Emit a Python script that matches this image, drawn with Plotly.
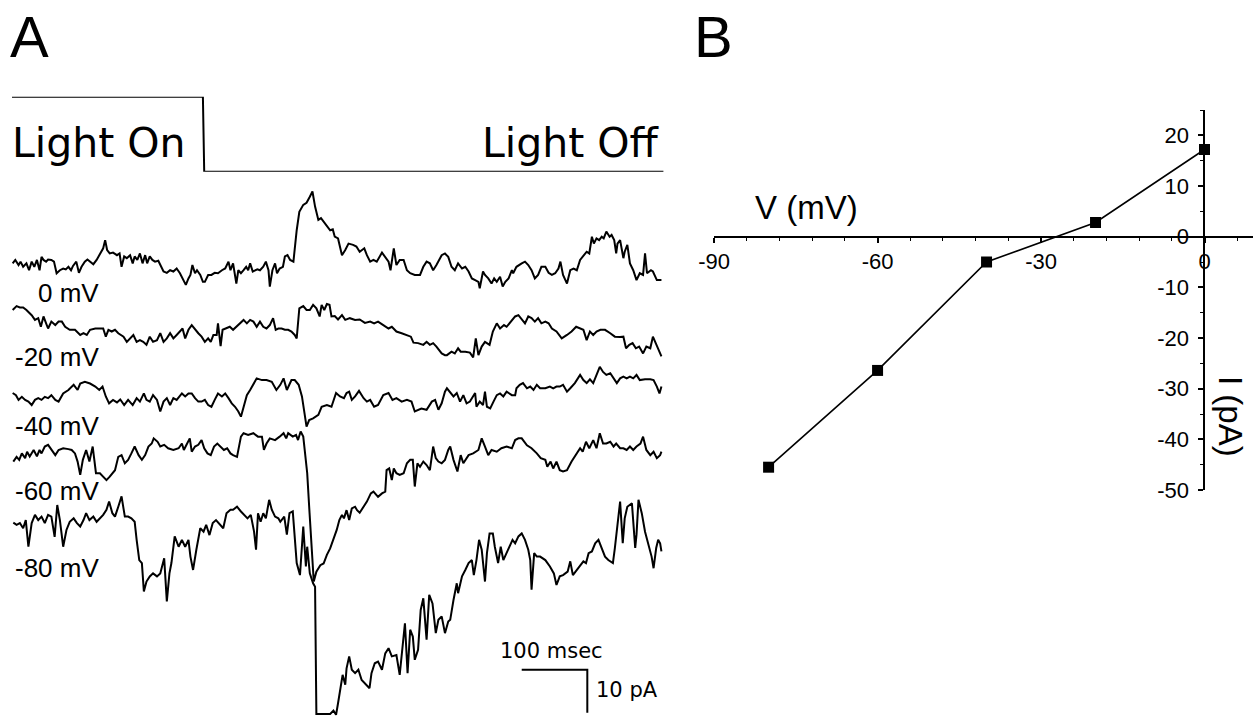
import plotly.graph_objects as go

# ---------------- Panel A: light-evoked currents at five holding potentials ----------------
# Each trace: (time in ms, current in pA relative to the trace's own baseline)
TRACE_0MV = [
    (1, 0.4), (5, 1.2), (10, 0.0), (13, 0.8), (17, -0.4), (22, 0.4), (26, -1.2), (30, 0.8), (34, -0.4),
    (38, 1.2), (42, -1.2), (45, 1.9), (48, 1.2), (52, 0.8), (55, 1.3), (60, 1.2), (64, 0.8), (68, -1.9),
    (73, -1.2), (78, -0.8), (82, -1.0), (86, -0.4), (90, -1.2), (93, -0.2), (98, 0.8), (102, -1.8),
    (106, -0.4), (111, 0.8), (115, 1.3), (119, 0.8), (124, 0.2), (129, 1.2), (134, 2.7), (139, 3.9),
    (142, 5.8), (145, 3.5), (149, 2.7), (154, 2.9), (160, 2.3), (164, 2.7), (167, -0.4), (171, 2.0),
    (175, 1.6), (180, 2.3), (184, 0.4), (187, 2.0), (191, 1.2), (195, 2.7), (199, 0.4), (203, 2.3),
    (206, 0.4), (210, 2.0), (214, 1.2), (218, 0.8), (223, 1.0), (231, -1.5), (236, -1.8), (241, -1.2),
    (246, -1.5), (251, -0.8), (256, -1.9), (261, -3.5), (265, -4.6), (269, -3.1), (272, -2.3), (275, 0.0),
    (279, -1.9), (282, -1.2), (287, -2.3), (291, -3.9), (294, -3.9), (299, -2.3), (304, -2.3), (309, -1.8),
    (314, -1.9), (320, -1.2), (325, -0.8), (330, 0.8), (333, -1.2), (337, 0.4), (342, -4.3), (345, -1.2),
    (349, -1.9), (353, -1.2), (357, -0.4), (360, -1.2), (363, 0.4), (367, -1.5), (370, -1.2), (374, -1.0),
    (378, -1.2), (383, -0.4), (387, 0.8), (391, -1.2), (393, -5.0), (397, -1.2), (401, 0.4), (404, -1.9),
    (408, -0.8), (413, -0.4), (416, 2.0), (420, 2.3), (424, 1.2), (429, 0.8), (434, 8.1), (438, 12.4),
    (444, 14.0), (449, 14.5), (454, 15.9), (458, 17.1), (462, 13.6), (467, 10.5), (471, 10.9), (475, 10.1),
    (480, 9.3), (485, 8.1), (489, 8.3), (492, 6.6), (497, 6.2), (503, 2.3), (508, 3.5), (513, 5.0),
    (520, 4.7), (525, 4.3), (530, 3.1), (537, 3.9), (541, 2.3), (546, 0.8), (551, 1.2), (556, 0.8),
    (564, 2.9), (569, 1.9), (574, 0.8), (577, -1.2), (582, 3.9), (586, 0.0), (591, 1.2), (597, 1.2),
    (602, -1.2), (607, -1.9), (614, -2.3), (622, -2.3), (627, -0.4), (632, 0.8), (637, 0.4), (642, -1.2),
    (647, 0.0), (655, 2.3), (660, 2.7), (665, 1.9), (670, -0.4), (675, -1.2), (680, 0.4), (686, -0.8),
    (691, -0.4), (696, -1.5), (701, -3.1), (706, -3.5), (711, -3.9), (713, -5.4), (718, -1.5), (721, -2.3),
    (726, -3.1), (731, -4.3), (735, -3.1), (739, -3.9), (744, -2.7), (748, -5.0), (752, -3.9), (757, -3.1),
    (762, -1.2), (764, -1.9), (769, -0.4), (777, 0.4), (782, 0.8), (787, 0.0), (792, -1.2), (797, -3.1),
    (802, -2.3), (807, -0.4), (813, -0.4), (818, -1.8), (823, -2.3), (828, -1.9), (833, -0.8), (836, 0.8),
    (840, -2.3), (846, -4.3), (851, -1.2), (856, -0.8), (861, -1.2), (866, 1.2), (871, 2.3), (876, 3.1),
    (880, 2.7), (884, 6.6), (887, 5.0), (891, 6.2), (895, 5.8), (899, 6.6), (902, 6.2), (906, 7.8),
    (911, 6.6), (914, 7.0), (918, 5.8), (921, 2.7), (923, 5.0), (927, 5.8), (932, 1.6), (934, 3.1),
    (938, 4.7), (942, 0.4), (947, -1.2), (952, -3.5), (957, -1.9), (962, -2.3), (965, 2.7), (968, -1.9),
    (974, -1.2), (977, -1.5), (983, -3.5), (990, -3.5),
]

TRACE_M20MV = [
    (1, 0.0), (7, 0.9), (12, 0.6), (17, 0.6), (22, 0.0), (30, -1.2), (35, -2.3), (40, -1.9), (44, -3.9),
    (48, -1.5), (52, -3.1), (55, -4.3), (60, -2.7), (66, -3.5), (71, -2.7), (76, -2.7), (81, -3.9),
    (88, -4.6), (96, -4.6), (104, -5.8), (109, -5.4), (114, -5.8), (119, -4.6), (127, -4.3), (134, -4.3),
    (139, -4.3), (143, -6.2), (147, -4.6), (152, -5.0), (157, -4.6), (162, -5.4), (170, -6.2), (175, -7.4),
    (180, -6.6), (185, -5.8), (190, -7.4), (195, -7.0), (200, -7.4), (205, -8.1), (210, -6.2), (215, -7.4),
    (221, -7.0), (226, -5.4), (231, -7.4), (236, -6.6), (241, -5.4), (246, -6.6), (251, -5.8), (256, -5.0),
    (260, -4.3), (264, -6.6), (269, -4.6), (274, -3.5), (279, -4.6), (284, -5.4), (289, -6.2), (294, -7.4),
    (299, -6.6), (303, -7.4), (307, -5.8), (312, -5.8), (314, -3.1), (318, -8.4), (321, -4.6), (325, -4.3),
    (332, -3.9), (337, -4.6), (342, -3.9), (348, -3.1), (353, -2.3), (358, -3.1), (363, -2.3), (368, -2.7),
    (373, -3.9), (378, -2.7), (383, -3.9), (388, -4.3), (393, -3.5), (398, -1.9), (402, -4.6), (406, -4.3),
    (411, -4.3), (416, -4.6), (421, -4.6), (426, -5.0), (431, -5.8), (434, -6.6), (438, 0.4), (444, 0.9),
    (449, 0.0), (454, 0.0), (459, 1.2), (464, 0.4), (469, -1.5), (472, 1.2), (476, 0.0), (480, 1.4),
    (484, 1.2), (487, -1.5), (492, -1.4), (497, -2.2), (503, -1.2), (508, -2.3), (515, -1.9), (523, -2.3),
    (530, -2.2), (538, -3.0), (546, -2.7), (552, -3.1), (558, -2.7), (566, -3.5), (574, -4.3), (579, -3.9),
    (586, -5.0), (594, -5.4), (602, -5.8), (608, -6.2), (612, -7.6), (619, -7.7), (627, -8.1), (632, -7.4),
    (637, -8.1), (642, -7.7), (647, -8.5), (655, -10.1), (660, -10.5), (663, -10.5), (670, -9.7),
    (675, -10.1), (680, -8.9), (684, -9.7), (691, -9.7), (698, -9.9), (703, -11.0), (707, -6.6),
    (711, -10.5), (716, -8.5), (721, -7.4), (728, -8.1), (733, -5.0), (739, -3.1), (744, -4.3), (750, -3.5),
    (754, -3.9), (762, -2.3), (767, -1.5), (772, -1.2), (777, -2.3), (782, -3.1), (787, -1.5), (792, -1.9),
    (797, -2.7), (802, -1.9), (807, -3.1), (813, -2.7), (818, -3.1), (823, -4.3), (830, -5.0), (838, -6.6),
    (846, -5.8), (853, -5.0), (860, -3.9), (865, -4.3), (871, -4.6), (876, -7.0), (881, -5.0), (886, -5.8),
    (891, -5.0), (897, -4.6), (904, -4.6), (912, -5.4), (919, -6.2), (927, -6.3), (932, -6.2), (936, -8.9),
    (941, -8.1), (946, -7.7), (951, -8.9), (956, -8.5), (962, -10.1), (967, -8.5), (973, -8.9), (977, -6.2),
    (983, -8.5), (990, -10.8),
]

TRACE_M40MV = [
    (1, 0.0), (6, -0.5), (10, -1.6), (15, -0.9), (20, -1.6), (25, -2.0), (30, -2.8), (35, -1.6), (40, -1.2),
    (45, -1.6), (50, -0.9), (55, -1.2), (60, -0.5), (66, -1.6), (71, -2.0), (78, -0.1), (86, 0.7), (94, 1.9),
    (100, 0.7), (104, 2.2), (111, 2.6), (119, 2.2), (127, 1.5), (133, 0.7), (138, 1.5), (143, -0.8),
    (148, -2.4), (154, -1.6), (160, -2.2), (165, -1.5), (171, -2.8), (177, -1.6), (184, -2.8), (190, -1.2),
    (195, -2.0), (201, -0.1), (205, -1.6), (210, -2.0), (215, -0.5), (221, -1.6), (226, -4.3), (231, -2.0),
    (236, -1.2), (241, -2.8), (246, -1.2), (251, -1.6), (259, -0.1), (264, -0.8), (269, -0.1), (274, -0.1),
    (279, -1.2), (284, -2.0), (289, -2.0), (294, -1.6), (299, -2.8), (304, -3.2), (309, -1.6), (314, -0.1),
    (320, -0.8), (325, -0.1), (330, -1.2), (335, -2.4), (340, -3.2), (345, -4.3), (349, -5.5), (353, -3.2),
    (358, -0.5), (363, 0.7), (368, 1.9), (373, 3.4), (381, 3.0), (388, 3.0), (396, 2.6), (403, 0.7),
    (409, 1.9), (414, 3.4), (419, 0.7), (426, 3.0), (431, 3.0), (437, 1.9), (442, -0.8), (446, -4.7),
    (449, -7.8), (453, -6.3), (459, -5.9), (467, -5.1), (472, -3.2), (480, -2.8), (487, -3.2), (494, 0.0),
    (500, -0.8), (506, -1.2), (510, 0.0), (514, 0.3), (518, -1.6), (523, -0.8), (529, 0.5), (536, -1.2),
    (541, -2.0), (546, -1.6), (552, -3.2), (558, -2.8), (566, -0.5), (574, 0.0), (580, -1.6), (586, -1.2),
    (594, -2.0), (602, -1.6), (609, -2.0), (614, -4.3), (619, -3.9), (624, -3.6), (632, -3.9), (640, -2.0),
    (645, -1.6), (650, -3.9), (655, -2.4), (660, 0.3), (663, 1.1), (668, 0.0), (673, -0.8), (678, 0.0),
    (683, -2.0), (688, -0.5), (693, -2.4), (698, -2.0), (706, 0.0), (708, -3.2), (713, -2.0), (718, -2.8),
    (721, 0.3), (724, -3.2), (729, -3.6), (734, -2.0), (739, -0.5), (744, -0.1), (749, -0.8), (754, 0.3),
    (762, -0.5), (767, -0.5), (769, 1.1), (774, 1.9), (779, 2.3), (785, 1.1), (790, 1.5), (795, 0.7),
    (800, 1.9), (805, 1.1), (813, 1.1), (820, 1.5), (825, 1.1), (830, 1.5), (835, 1.5), (840, 1.9),
    (846, 0.3), (851, 1.1), (858, 2.3), (866, 4.2), (871, 3.0), (876, 2.3), (881, 3.2), (886, 2.3),
    (891, 4.2), (896, 6.1), (901, 4.9), (906, 4.2), (912, 4.6), (917, 3.4), (922, 2.3), (927, 3.4),
    (932, 3.8), (937, 3.4), (942, 3.8), (947, 3.4), (952, 4.2), (957, 3.0), (965, 3.2), (973, 3.2),
    (978, 3.0), (983, 1.5), (987, -0.1), (990, 1.5),
]

TRACE_M60MV = [
    (2, 0.1), (7, 1.2), (11, 0.5), (15, 2.0), (20, 0.9), (23, 2.4), (27, 1.3), (33, 2.8), (38, 1.3),
    (42, 2.8), (45, 2.0), (50, 3.6), (55, 4.0), (60, 2.8), (66, 1.6), (71, 2.8), (78, 3.2), (86, 3.0),
    (91, 2.8), (96, 2.0), (100, 0.1), (104, -3.0), (108, 0.5), (113, 2.8), (118, 0.1), (123, 3.6),
    (128, -2.6), (134, -2.6), (139, -3.4), (144, -4.2), (149, -3.4), (157, -1.9), (162, 1.2), (167, 1.6),
    (172, -0.3), (177, 0.5), (182, 2.0), (187, 3.6), (193, 1.6), (198, 0.5), (203, 1.6), (208, 3.6),
    (213, 4.3), (216, 5.5), (222, 4.7), (226, 3.6), (232, 4.0), (238, 3.2), (246, 2.8), (254, 3.2),
    (259, 4.3), (262, 2.8), (266, 4.0), (271, 5.5), (274, 2.4), (279, 3.6), (284, 4.0), (289, 5.1),
    (293, 3.2), (298, 2.0), (303, 1.6), (308, 3.6), (313, 4.3), (318, 3.6), (323, 2.8), (328, 3.2),
    (333, 2.0), (337, 1.6), (343, 1.2), (349, 5.9), (353, 6.7), (360, 6.3), (368, 6.7), (375, 5.9),
    (381, 5.9), (384, 2.8), (388, 4.3), (393, 5.5), (401, 5.1), (408, 5.9), (414, 6.7), (418, 5.5),
    (421, 6.7), (428, 5.9), (433, 6.3), (436, 5.1), (440, 7.1), (444, 5.9), (447, 2.0), (450, -2.6),
    (453, -10.4), (456, -18.1), (458, -25.1), (460, -27.8), (464, -25.5), (470, -24.0), (475, -23.6),
    (480, -21.6), (485, -20.1), (490, -18.1), (495, -15.8), (499, -13.5), (503, -12.3), (506, -13.1),
    (510, -11.2), (514, -13.5), (518, -10.8), (523, -10.4), (526, -11.2), (530, -11.8), (536, -10.4),
    (541, -9.2), (547, -7.3), (551, -6.9), (558, -8.1), (564, -7.3), (569, -6.9), (571, -1.9), (575, -1.5),
    (579, -4.2), (582, -1.5), (586, -2.6), (591, -3.0), (597, -2.6), (602, -0.3), (607, 0.5), (611, 0.5),
    (614, -5.7), (618, -0.3), (622, -1.1), (627, 0.1), (632, -0.7), (637, -1.9), (642, 3.6), (646, 0.9),
    (650, 0.1), (655, -0.3), (660, 0.5), (665, 2.8), (668, 3.6), (673, 0.5), (679, -2.2), (684, 1.6),
    (688, -0.3), (696, 1.6), (703, 2.0), (711, 2.8), (716, 5.5), (721, 3.6), (726, 1.6), (731, 2.8),
    (739, 2.4), (746, 3.2), (754, 3.6), (762, 3.2), (767, 5.1), (772, 5.5), (777, 5.5), (785, 3.9),
    (792, 3.2), (800, 2.0), (806, 0.9), (813, 0.5), (816, -1.1), (821, 0.1), (825, -1.5), (830, 0.1),
    (835, -1.9), (840, -2.2), (846, -1.9), (853, 0.1), (861, 2.0), (866, 3.2), (870, 2.4), (875, 4.7),
    (880, 3.2), (886, 5.1), (891, 3.2), (896, 6.7), (901, 4.3), (906, 4.3), (912, 4.7), (917, 3.6),
    (921, 4.3), (927, 3.2), (932, 3.2), (937, 2.8), (942, 3.6), (947, 2.8), (952, 3.6), (958, 4.3),
    (962, 5.9), (967, 2.8), (973, 1.6), (978, 2.4), (983, 0.9), (988, 1.6), (990, 2.4),
]

TRACE_M80MV = [
    (2, 0.3), (7, -0.2), (12, 0.2), (17, -1.0), (21, 0.9), (25, -5.3), (30, 0.2), (35, 2.1), (40, 0.9),
    (45, 1.7), (50, 0.2), (55, 2.1), (60, 1.7), (65, -3.0), (69, 4.4), (73, 0.9), (78, -5.3), (83, -1.4),
    (88, 0.5), (94, 1.3), (99, 0.2), (104, -0.6), (109, 0.9), (113, 2.5), (118, 0.9), (124, 1.7),
    (129, 0.5), (134, 1.3), (139, 2.1), (144, 3.3), (148, 5.2), (153, 2.5), (157, 1.7), (162, 4.0),
    (167, 6.4), (172, 1.7), (177, 1.7), (182, 1.3), (187, 0.5), (190, -3.7), (194, -8.4), (198, -9.1),
    (201, -15.7), (205, -13.4), (210, -12.2), (215, -11.5), (221, -12.2), (226, -11.5), (232, -8.0),
    (236, -18.0), (240, -11.5), (243, -9.1), (248, -2.9), (254, -5.3), (259, -3.7), (264, -5.3),
    (269, -3.7), (272, -7.6), (276, -10.7), (281, -6.0), (287, -1.0), (292, -1.8), (296, -0.2),
    (301, -2.6), (306, 0.2), (311, 0.9), (317, -0.2), (322, -1.0), (327, 2.5), (333, 3.3), (337, 3.3),
    (343, 4.0), (349, 2.9), (354, 2.1), (359, 1.3), (364, 2.1), (369, -1.8), (372, -6.0), (375, 2.5),
    (379, 0.5), (383, 2.5), (387, 1.3), (392, 5.6), (396, 3.3), (401, 1.7), (406, 1.3), (409, 0.5),
    (415, 1.7), (419, -2.5), (423, 2.5), (428, 2.9), (434, -9.1), (439, -11.9), (444, -0.6), (448, -9.9),
    (450, -5.3), (454, -11.5), (459, -13.8), (462, -14.6), (464, -44.2), (485, -44.2), (490, -43.4),
    (494, -44.4), (497, -41.7), (501, -37.8), (504, -35.1), (508, -37.4), (510, -33.6), (514, -30.8),
    (518, -33.9), (523, -34.7), (528, -33.9), (533, -36.3), (538, -37.0), (545, -38.2), (548, -34.7),
    (553, -32.4), (558, -32.0), (564, -33.9), (569, -30.1), (574, -28.9), (579, -30.8), (586, -30.5),
    (591, -35.1), (596, -27.7), (599, -23.1), (603, -34.7), (607, -24.6), (611, -26.2), (614, -31.6),
    (619, -29.3), (623, -20.0), (627, -17.3), (632, -26.9), (636, -16.5), (641, -18.5), (646, -25.4),
    (650, -22.3), (655, -21.5), (660, -25.4), (665, -22.7), (668, -22.3), (673, -17.7), (678, -13.8),
    (680, -16.1), (686, -12.2), (691, -10.7), (696, -9.1), (701, -8.4), (704, -11.9), (708, -8.4),
    (712, -3.7), (716, -6.0), (721, -13.4), (724, -6.8), (728, -2.2), (733, -2.2), (736, -5.3),
    (741, -9.1), (745, -5.3), (749, -8.4), (754, -6.8), (763, -3.7), (767, -4.5), (772, -2.9),
    (777, -2.2), (782, -3.7), (787, -6.0), (790, -8.4), (792, -15.3), (796, -6.8), (800, -7.6),
    (805, -7.6), (813, -8.4), (820, -9.9), (826, -11.5), (830, -14.2), (835, -12.2), (840, -11.9),
    (847, -11.1), (851, -8.7), (855, -11.9), (861, -10.7), (866, -9.5), (871, -8.7), (875, -9.1),
    (879, -6.8), (884, -6.4), (889, -4.5), (894, -3.7), (899, -5.6), (904, -7.6), (909, -8.4),
    (916, -9.1), (919, -5.6), (924, 0.9), (927, 5.2), (931, -4.5), (934, 1.3), (938, 4.0), (945, 4.8),
    (950, -5.6), (952, -2.5), (955, 5.6), (960, 2.5), (965, -1.8), (970, -4.5), (975, -7.6), (978, -10.3),
    (982, -5.6), (985, -3.7), (988, -4.5), (990, -6.4),
]

HOLDING_LABELS = ["0 mV", "-20 mV", "-40 mV", "-60 mV", "-80 mV"]
TRACES = [TRACE_0MV, TRACE_M20MV, TRACE_M40MV, TRACE_M60MV, TRACE_M80MV]
# vertical stacking of the traces on the shared pA axis
TRACE_OFFSETS_PA = [105.1, 94.65, 75.35, 59.3, 44.9]

# light stimulus (1 = on, 0 = off) vs time in ms
LIGHT_T_MS = [0, 291, 293, 993]
LIGHT_LEVEL = [1, 1, 0, 0]

# calibration bar
SCALE_MS = 100
SCALE_PA = 10
SCALE_ORIGIN = (777, 1)   # (ms, pA): start of the horizontal bar, bottom of the vertical bar

# ---------------- Panel B: peak current vs holding potential ----------------
IV_V_MV = [-80, -60, -40, -20, 0]
IV_I_PA = [-45.5, -26.4, -5.0, 2.8, 17.2]
IV_X_TICKS = [-90, -60, -30, 0]
IV_Y_TICKS = [-50, -40, -30, -20, -10, 0, 10, 20]

W, H = 1253, 717
ARIAL = "Arial"
GOTHIC = "DejaVu Sans"


def px(x):
    return x / W


def py(y):
    return 1 - y / H


fig = go.Figure()

for trace, offset, name in zip(TRACES, TRACE_OFFSETS_PA, HOLDING_LABELS):
    fig.add_trace(go.Scatter(
        x=[t for t, _ in trace], y=[i + offset for _, i in trace],
        mode="lines", line=dict(color="black", width=2), name=name,
        xaxis="x", yaxis="y", hoverinfo="skip",
    ))

fig.add_trace(go.Scatter(
    x=LIGHT_T_MS, y=LIGHT_LEVEL, mode="lines", line=dict(color="black", width=2),
    xaxis="x", yaxis="y3", hoverinfo="skip",
))

sx, sy = SCALE_ORIGIN
fig.add_trace(go.Scatter(
    x=[sx, sx + SCALE_MS, sx + SCALE_MS], y=[sy + SCALE_PA, sy + SCALE_PA, sy],
    mode="lines", line=dict(color="black", width=2), xaxis="x", yaxis="y", hoverinfo="skip",
))

fig.add_trace(go.Scatter(
    x=IV_V_MV, y=IV_I_PA, mode="lines+markers",
    line=dict(color="black", width=1.6),
    marker=dict(symbol="square", size=11, color="black"),
    xaxis="x2", yaxis="y2", hoverinfo="skip",
))

# panel A: 0.656 px per ms starting at 12 px; 4.3 px per pA over the full height
x_lo = -12 / 0.656
x_hi = (W - 12) / 0.656
hidden = dict(visible=False, showgrid=False, zeroline=False)

axis_font = dict(family=ARIAL, size=22, color="black")

fig.update_layout(
    width=W, height=H, margin=dict(l=0, r=0, t=0, b=0, pad=0, autoexpand=False),
    paper_bgcolor="white", plot_bgcolor="rgba(0,0,0,0)", showlegend=False,
    xaxis=dict(domain=[0, 1], range=[x_lo, x_hi], **hidden),
    yaxis=dict(domain=[0, 1], range=[0, H / 4.3], **hidden),
    yaxis3=dict(domain=[py(171.7), py(96.7)], range=[0, 1], anchor="x", **hidden),
    xaxis2=dict(
        domain=[px(714.1), 1.0], range=[-90, 8.9], anchor="free", position=py(236.7),
        showline=True, linecolor="black", linewidth=2, showgrid=False, zeroline=False,
        automargin=False,
        tickmode="array", tickvals=IV_X_TICKS, ticktext=[str(v) for v in IV_X_TICKS],
        ticks="outside", ticklen=5, tickwidth=1.5, tickcolor="black", tickfont=axis_font,
        minor=dict(dtick=6, tick0=-90, ticks="outside", ticklen=3, tickwidth=1.2, tickcolor="black"),
    ),
    yaxis2=dict(
        domain=[py(490), py(110)], range=[-50, 25], anchor="free", position=px(1204.4), side="left",
        showline=True, linecolor="black", linewidth=2, showgrid=False, zeroline=False,
        automargin=False, ticklabelstandoff=5,
        tickmode="array", tickvals=IV_Y_TICKS, ticktext=[str(v) for v in IV_Y_TICKS],
        ticks="outside", ticklen=5, tickwidth=1.5, tickcolor="black", tickfont=axis_font,
        minor=dict(dtick=5, tick0=0, ticks="outside", ticklen=3, tickwidth=1.2, tickcolor="black"),
    ),
)


def label(text, x, y, size, family, xanchor="left", yanchor="middle", angle=0):
    fig.add_annotation(
        text=text, x=px(x), y=py(y), xref="paper", yref="paper", showarrow=False,
        xanchor=xanchor, yanchor=yanchor, textangle=angle,
        font=dict(family=family, size=size, color="black"),
    )


label("A", 8, 36, 58, ARIAL)
label("B", 692, 36, 58, ARIAL)
label("Light On", 10, 143, 41, GOTHIC)
label("Light Off", 662, 143, 41, GOTHIC, xanchor="right")

mv_y = [292.5, 357.5, 425.8, 490.8, 567.5]
for text, y in zip(HOLDING_LABELS, mv_y):
    label(text, 101, y, 26, ARIAL, xanchor="right")

label("100 msec", 551, 651, 21, GOTHIC, xanchor="center")
label("10 pA", 594, 690, 21, GOTHIC)

label("V (mV)", 806, 207, 33, ARIAL, xanchor="center")
label("I (pA)", 1230, 416, 33, ARIAL, xanchor="center", angle=90)

fig.write_html("out.html")
